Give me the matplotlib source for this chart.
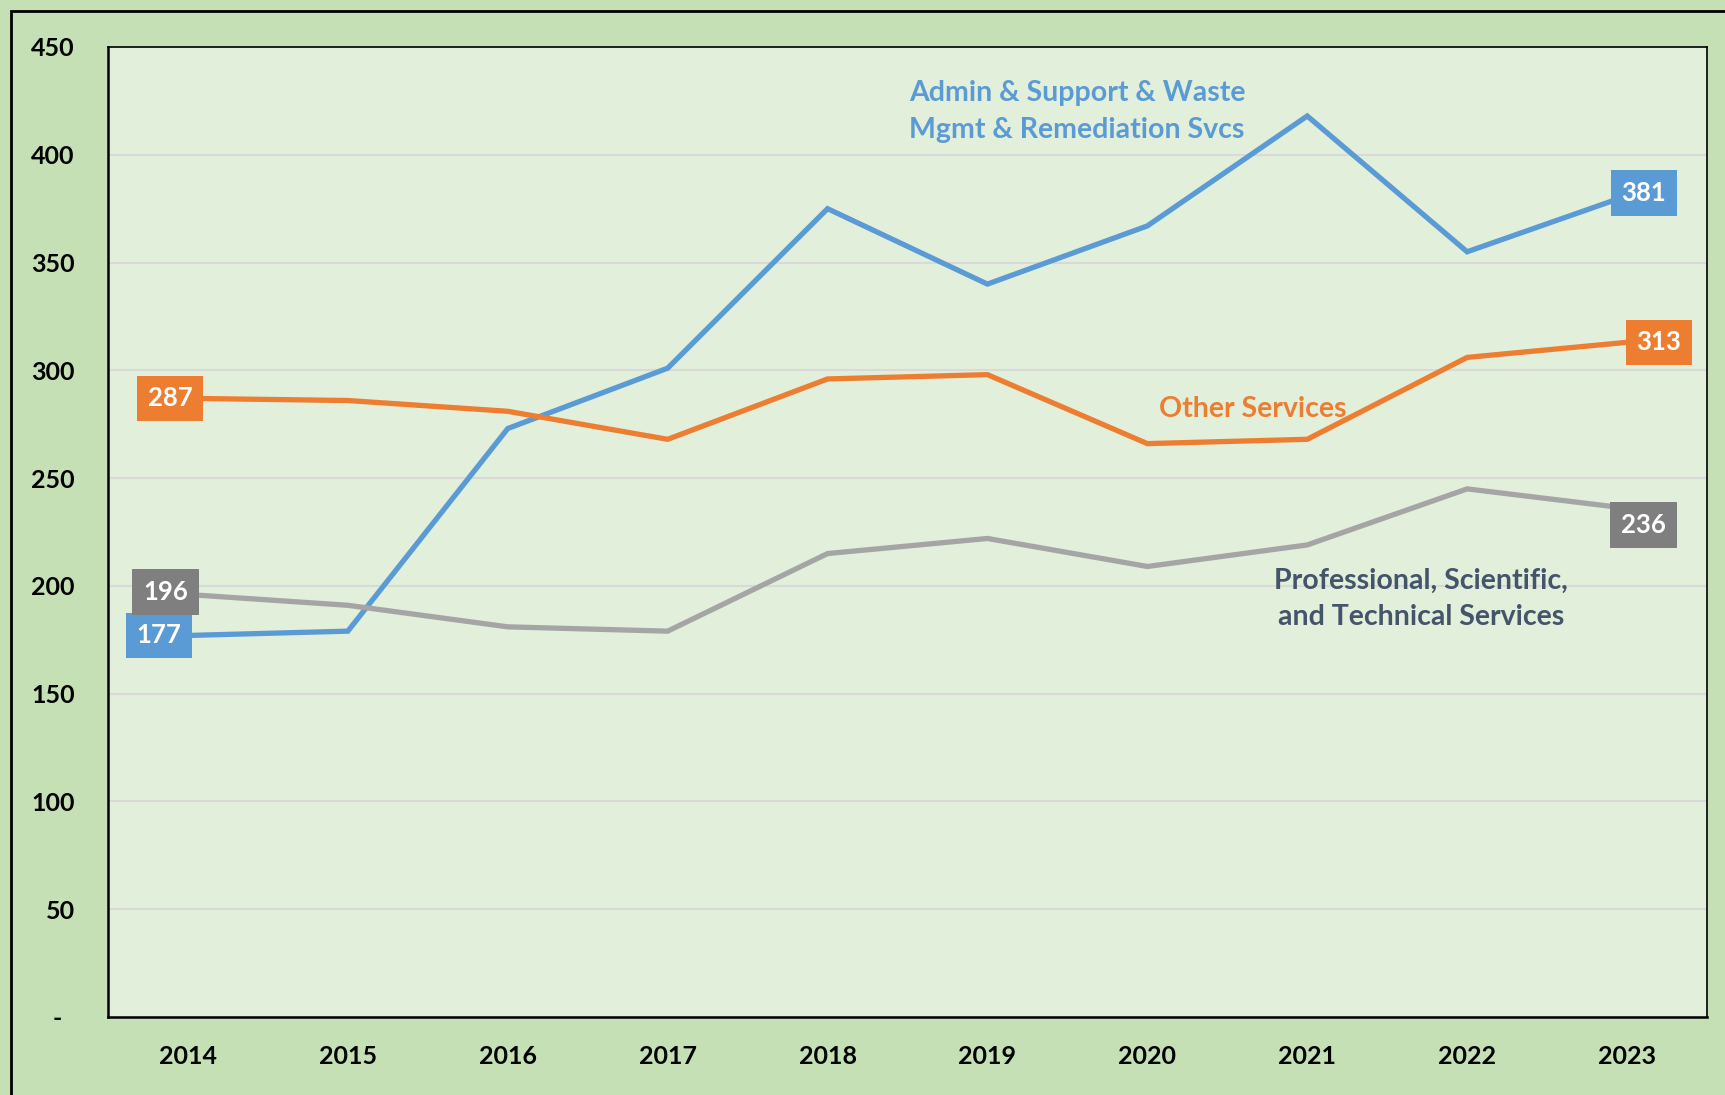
import matplotlib.pyplot as plt
from matplotlib.patches import Rectangle

# Values
years = ["2014", "2015", "2016", "2017", "2018", "2019", "2020", "2021", "2022", "2023"]
admin = [177, 179, 273, 301, 375, 340, 367, 418, 355, 381]
other = [287, 286, 281, 268, 296, 298, 266, 268, 306, 313]
prof = [196, 191, 181, 179, 215, 222, 209, 219, 245, 236]
yticks = [0, 50, 100, 150, 200, 250, 300, 350, 400, 450]

BLUE = "#5B9BD5"
ORANGE = "#ED7D31"
GRAY = "#A5A5A5"
GRAY_BOX = "#7F7F7F"
SLATE = "#44546A"

plt.rcParams["font.family"] = ["Lato", "DejaVu Sans"]
plt.rcParams["font.weight"] = "bold"

fig = plt.figure(figsize=(17.25, 10.95), dpi=100)
fig.patch.set_facecolor("#C5E0B4")
W, H = 1725, 1095
ax = fig.add_axes([108 / W, 1 - 1017 / H, (1707 - 108) / W, (1017 - 47) / H])
ax.set_facecolor("#E2EFDA")

# outer frame (cut off at right and bottom like the original)
fig.patches.append(Rectangle((11 / W, -0.05), 1.2, 1 - 11 / H + 0.05,
                             transform=fig.transFigure, fill=False,
                             edgecolor="black", linewidth=2))

x = range(len(years))
ax.plot(x, admin, color=BLUE, lw=3.8, solid_joinstyle="miter", zorder=3)
ax.plot(x, other, color=ORANGE, lw=3.8, solid_joinstyle="miter", zorder=3)
ax.plot(x, prof, color=GRAY, lw=3.8, solid_joinstyle="miter", zorder=3)

ax.set_xlim(-0.5, len(years) - 0.5)
ax.set_ylim(0, 450)
ax.set_xticks(list(x))
ax.set_xticklabels(years)
ax.set_yticks(yticks)
ax.set_yticklabels([f"{v}" if v else "-  " for v in yticks])
ax.tick_params(length=0, labelsize=18, colors="black")
ax.tick_params(axis="y", pad=24)
ax.tick_params(axis="x", pad=20)
for lab in ax.get_xticklabels() + ax.get_yticklabels():
    lab.set_fontweight("bold")

ax.grid(axis="y", color="#D9D9D9", lw=1.5)
ax.set_axisbelow(True)
for s in ax.spines.values():
    s.set_color("black")
    s.set_linewidth(1.2)
ax.spines["left"].set_linewidth(1.8)
ax.spines["bottom"].set_linewidth(1.8)


def box_label(xi, yi, val, color, dx, dy=0):
    ax.annotate(str(val), (xi, yi), xytext=(dx, dy), textcoords="offset points",
                ha="center", va="center", fontsize=18.5, fontweight="bold", color="white",
                bbox=dict(boxstyle="square,pad=0.42", fc=color, ec="none"), zorder=5)


box_label(0, admin[0], admin[0], BLUE, -21)
box_label(0, other[0], other[0], ORANGE, -13)
box_label(0, prof[0], prof[0], GRAY_BOX, -16, 2)
box_label(9, admin[-1], admin[-1], BLUE, 12, 2)
box_label(9, other[-1], other[-1], ORANGE, 23)
box_label(9, prof[-1], prof[-1], GRAY_BOX, 12, -12)

ax.text(5.56, 420, "Admin & Support & Waste\nMgmt & Remediation Svcs", color=BLUE,
        fontsize=20.5, fontweight="bold", ha="center", va="center", linespacing=1.5)
ax.text(6.66, 282, "Other Services", color=ORANGE,
        fontsize=20.5, fontweight="bold", ha="center", va="center")
ax.text(7.71, 194, "Professional, Scientific,\nand Technical Services", color=SLATE,
        fontsize=20.5, fontweight="bold", ha="center", va="center", linespacing=1.5)

fig.savefig("out.png", dpi=100, facecolor=fig.get_facecolor())
